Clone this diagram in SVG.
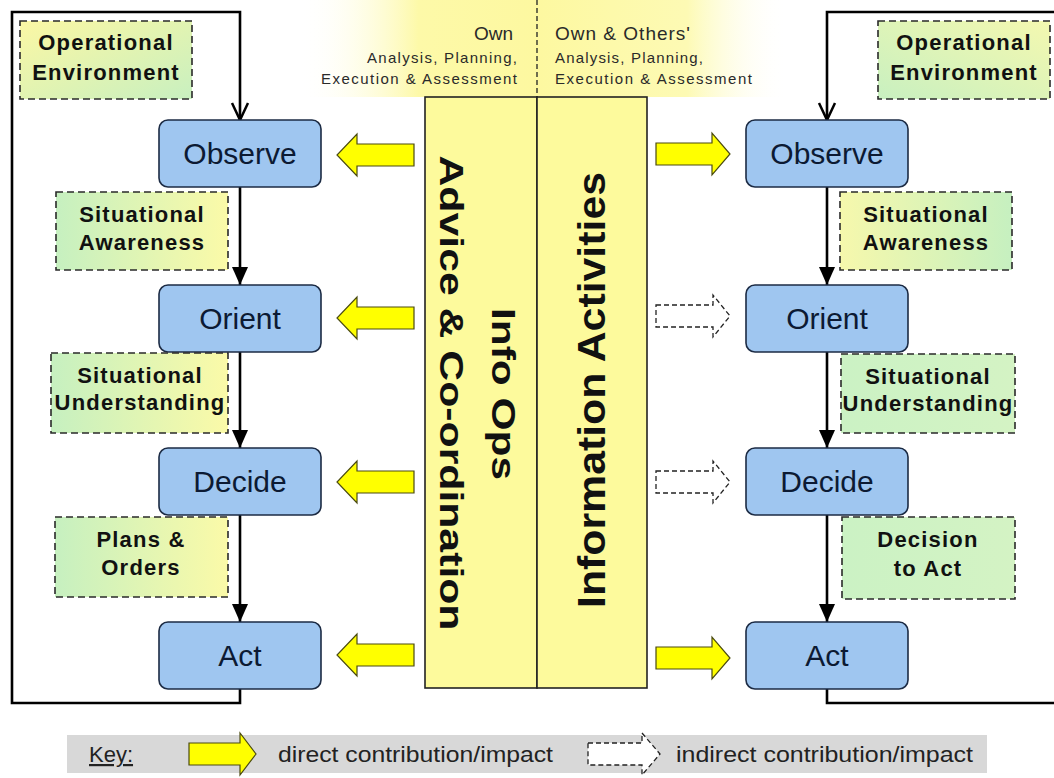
<svg xmlns="http://www.w3.org/2000/svg" width="1054" height="778" viewBox="0 0 1054 778">
  <defs>
    <style>
      .step { fill: #9fc6f0; stroke: #1c2b44; stroke-width: 1.6; }
      .step-label { font-family: "Liberation Sans", Arial, sans-serif; font-size: 30px; fill: #0c1a33; text-anchor: middle; }
      .note { stroke: #2a2a2a; stroke-width: 1.6; stroke-dasharray: 7 4; }
      .note-label { font-family: "Liberation Sans", Arial, sans-serif; font-size: 22px; font-weight: bold; fill: #111; text-anchor: middle; letter-spacing: 1.2px; }
      .flow { fill: none; stroke: #000; stroke-width: 2.6; }
      .direct { fill: #ffff00; stroke: #4a4a10; stroke-width: 1.2; }
      .indirect { fill: #ffffff; stroke: #222; stroke-width: 1.3; stroke-dasharray: 5 3; }
      .panel { fill: #fdfa9c; stroke: #222; stroke-width: 1.6; }
      .panel-label { font-family: "Liberation Sans", Arial, sans-serif; font-weight: bold; fill: #111; text-anchor: middle; }
      .scope { font-family: "Liberation Sans", Arial, sans-serif; fill: #2a2a2a; }
      .key-text { font-family: "Liberation Sans", Arial, sans-serif; font-size: 22px; fill: #222; }
    </style>
    <linearGradient id="noteGL" x1="0" y1="0" x2="1" y2="0">
      <stop offset="0" stop-color="#c6f0c0"/>
      <stop offset="1" stop-color="#fbfaa8"/>
    </linearGradient>
    <linearGradient id="noteGR" x1="0" y1="0" x2="1" y2="0">
      <stop offset="0" stop-color="#f6f8ac"/>
      <stop offset="1" stop-color="#c6f0c0"/>
    </linearGradient>
    <linearGradient id="noteEnvL" x1="0" y1="0" x2="1" y2="1">
      <stop offset="0" stop-color="#fbf7a4"/>
      <stop offset="1" stop-color="#c8f0c0"/>
    </linearGradient>
    <linearGradient id="noteEnvR" x1="0" y1="1" x2="1" y2="0">
      <stop offset="0" stop-color="#c8f0c0"/>
      <stop offset="1" stop-color="#f4f8b0"/>
    </linearGradient>
    <linearGradient id="noteGreen" x1="0" y1="0" x2="1" y2="0">
      <stop offset="0" stop-color="#cbf2c4"/>
      <stop offset="1" stop-color="#d4f3c4"/>
    </linearGradient>
    <linearGradient id="glowL" x1="0" y1="0" x2="1" y2="0">
      <stop offset="0" stop-color="#ffffff" stop-opacity="0"/>
      <stop offset="0.5" stop-color="#fdf9a8"/>
      <stop offset="1" stop-color="#fdf8a0"/>
    </linearGradient>
    <linearGradient id="glowR" x1="0" y1="0" x2="1" y2="0">
      <stop offset="0" stop-color="#fdf8a0"/>
      <stop offset="0.6" stop-color="#fdfab4"/>
      <stop offset="1" stop-color="#ffffff" stop-opacity="0"/>
    </linearGradient>
    <marker id="tri" viewBox="0 0 18 16" refX="18" refY="8" markerWidth="18" markerHeight="16" markerUnits="userSpaceOnUse" orient="auto">
      <path d="M0,0 L18,8 L0,16 Z" fill="#000"/>
    </marker>
    <marker id="vee" viewBox="-2 -2 22 20" refX="17" refY="8" markerWidth="22" markerHeight="20" markerUnits="userSpaceOnUse" orient="auto">
      <path d="M0,0 L17,8 L0,16" fill="none" stroke="#000" stroke-width="2.5"/>
    </marker>
  </defs>

  <rect width="1054" height="778" fill="#ffffff"/>

  <!-- scope headings above the central panel -->
  <g id="scope-headings">
    <rect x="300" y="0" width="237" height="97" fill="url(#glowL)"/>
    <rect x="537" y="0" width="250" height="97" fill="url(#glowR)"/>
    <line x1="537" y1="0" x2="537" y2="97" stroke="#222" stroke-width="1.3" stroke-dasharray="5 3"/>
    <text class="scope" x="513" y="40" font-size="19" text-anchor="end">Own</text>
    <text class="scope" x="517" y="63" font-size="15" text-anchor="end" textLength="150" lengthAdjust="spacing">Analysis, Planning,</text>
    <text class="scope" x="517" y="84" font-size="15" text-anchor="end" textLength="196" lengthAdjust="spacing">Execution &amp; Assessment</text>
    <text class="scope" x="555" y="40" font-size="19" textLength="135" lengthAdjust="spacing">Own &amp; Others'</text>
    <text class="scope" x="555" y="63" font-size="15" textLength="148" lengthAdjust="spacing">Analysis, Planning,</text>
    <text class="scope" x="555" y="84" font-size="15" textLength="197" lengthAdjust="spacing">Execution &amp; Assessment</text>
  </g>

  <!-- central panel: Info Ops / Information Activities -->
  <g id="info-panel">
    <rect class="panel" x="425" y="97" width="112" height="591"/>
    <rect class="panel" x="537" y="97" width="110" height="591"/>
    <text class="panel-label" font-size="33" transform="translate(492,394) rotate(90)" textLength="172" lengthAdjust="spacingAndGlyphs">Info Ops</text>
    <text class="panel-label" font-size="33" transform="translate(440,393) rotate(90)" textLength="475" lengthAdjust="spacingAndGlyphs">Advice &amp; Co-ordination</text>
    <text class="panel-label" font-size="38" transform="translate(605,390) rotate(-90)" textLength="436" lengthAdjust="spacingAndGlyphs">Information Activities</text>
  </g>

  <!-- loop connectors -->
  <g id="connectors">
    <polyline class="flow" points="240,688 240,703 12,703 12,12 240,12 240,120" marker-end="url(#vee)"/>
    <line class="flow" x1="240" y1="187" x2="240" y2="285" marker-end="url(#tri)"/>
    <line class="flow" x1="240" y1="352" x2="240" y2="448" marker-end="url(#tri)"/>
    <line class="flow" x1="240" y1="515" x2="240" y2="622" marker-end="url(#tri)"/>
    <polyline class="flow" points="827,689 827,703 1056,703"/>
    <polyline class="flow" points="1056,12 827,12 827,120" marker-end="url(#vee)"/>
    <line class="flow" x1="827" y1="187" x2="827" y2="285" marker-end="url(#tri)"/>
    <line class="flow" x1="827" y1="352" x2="827" y2="448" marker-end="url(#tri)"/>
    <line class="flow" x1="827" y1="515" x2="827" y2="622" marker-end="url(#tri)"/>
  </g>

  <!-- contribution arrows -->
  <g id="contributions">
    <path class="direct" d="M414,144 H357 V134 L337,155 L357,176 V166 H414 Z"/>
    <path class="direct" d="M414,307 H357 V297 L337,318 L357,339 V329 H414 Z"/>
    <path class="direct" d="M414,471 H357 V461 L337,482 L357,503 V493 H414 Z"/>
    <path class="direct" d="M414,644 H357 V634 L337,655 L357,676 V666 H414 Z"/>
    <path class="direct" d="M656,143 H712 V133 L730,154 L712,175 V165 H656 Z"/>
    <path class="indirect" d="M656,305 H713 V295 L730,316 L713,337 V327 H656 Z"/>
    <path class="indirect" d="M656,471 H713 V461 L730,482 L713,503 V493 H656 Z"/>
    <path class="direct" d="M656,647 H712 V637 L730,658 L712,679 V669 H656 Z"/>
  </g>

  <!-- own decision cycle -->
  <g id="own-env">
    <rect class="note" x="20" y="21" width="172" height="78" fill="url(#noteEnvL)"/>
    <text class="note-label" x="106" y="50">Operational</text>
    <text class="note-label" x="106" y="80">Environment</text>
  </g>
  <g id="own-observe">
    <rect class="step" x="159" y="120" width="162" height="67" rx="9"/>
    <text class="step-label" x="240" y="164">Observe</text>
  </g>
  <g id="own-awareness">
    <rect class="note" x="56" y="192" width="172" height="78" fill="url(#noteGL)"/>
    <text class="note-label" x="142" y="222">Situational</text>
    <text class="note-label" x="142" y="250">Awareness</text>
  </g>
  <g id="own-orient">
    <rect class="step" x="159" y="285" width="162" height="67" rx="9"/>
    <text class="step-label" x="240" y="329">Orient</text>
  </g>
  <g id="own-understanding">
    <rect class="note" x="51" y="353" width="177" height="80" fill="url(#noteGL)"/>
    <text class="note-label" x="140" y="383">Situational</text>
    <text class="note-label" x="140" y="410">Understanding</text>
  </g>
  <g id="own-decide">
    <rect class="step" x="159" y="448" width="162" height="67" rx="9"/>
    <text class="step-label" x="240" y="492">Decide</text>
  </g>
  <g id="own-plans">
    <rect class="note" x="55" y="517" width="173" height="80" fill="url(#noteGL)"/>
    <text class="note-label" x="141" y="547">Plans &amp;</text>
    <text class="note-label" x="141" y="575">Orders</text>
  </g>
  <g id="own-act">
    <rect class="step" x="159" y="622" width="162" height="67" rx="9"/>
    <text class="step-label" x="240" y="666">Act</text>
  </g>

  <!-- others' decision cycle -->
  <g id="other-env">
    <rect class="note" x="878" y="21" width="172" height="78" fill="url(#noteEnvR)"/>
    <text class="note-label" x="964" y="50">Operational</text>
    <text class="note-label" x="964" y="80">Environment</text>
  </g>
  <g id="other-observe">
    <rect class="step" x="746" y="120" width="162" height="67" rx="9"/>
    <text class="step-label" x="827" y="164">Observe</text>
  </g>
  <g id="other-awareness">
    <rect class="note" x="840" y="192" width="172" height="78" fill="url(#noteGR)"/>
    <text class="note-label" x="926" y="222">Situational</text>
    <text class="note-label" x="926" y="250">Awareness</text>
  </g>
  <g id="other-orient">
    <rect class="step" x="746" y="285" width="162" height="67" rx="9"/>
    <text class="step-label" x="827" y="329">Orient</text>
  </g>
  <g id="other-understanding">
    <rect class="note" x="841" y="354" width="174" height="79" fill="url(#noteGreen)"/>
    <text class="note-label" x="928" y="384">Situational</text>
    <text class="note-label" x="928" y="411">Understanding</text>
  </g>
  <g id="other-decide">
    <rect class="step" x="746" y="448" width="162" height="67" rx="9"/>
    <text class="step-label" x="827" y="492">Decide</text>
  </g>
  <g id="other-decision">
    <rect class="note" x="842" y="517" width="173" height="82" fill="url(#noteGreen)"/>
    <text class="note-label" x="928" y="547">Decision</text>
    <text class="note-label" x="928" y="576">to Act</text>
  </g>
  <g id="other-act">
    <rect class="step" x="746" y="622" width="162" height="67" rx="9"/>
    <text class="step-label" x="827" y="666">Act</text>
  </g>

  <!-- key -->
  <g id="key">
    <rect x="67" y="735" width="920" height="38" fill="#d8d8d8"/>
    <text class="key-text" x="89" y="762" text-decoration="underline">Key:</text>
    <path class="direct" d="M189,743 H240 V733 L256,754 L240,775 V765 H189 Z"/>
    <text class="key-text" x="278" y="762" textLength="275" lengthAdjust="spacingAndGlyphs">direct contribution/impact</text>
    <path class="indirect" d="M588,743 H642 V733 L660,754 L642,775 V765 H588 Z"/>
    <text class="key-text" x="676" y="762" textLength="297" lengthAdjust="spacingAndGlyphs">indirect contribution/impact</text>
  </g>
</svg>
